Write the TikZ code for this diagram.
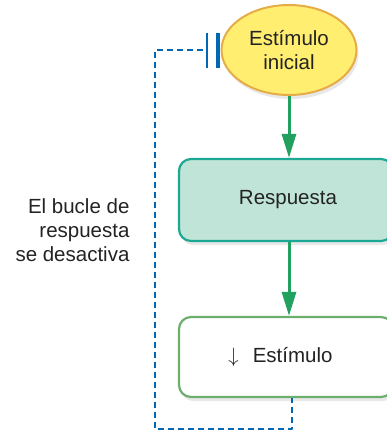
\documentclass[tikz,border=0pt]{standalone}
\usepackage{fontspec}
\setmainfont{Liberation Sans}
\usetikzlibrary{shapes.geometric,arrows.meta,shadows}
\definecolor{amarillo}{RGB}{255,238,112}
\definecolor{dorado}{RGB}{230,172,72}
\definecolor{menta}{RGB}{192,228,216}
\definecolor{turquesa}{RGB}{28,168,148}
\definecolor{verdecaja}{RGB}{108,174,108}
\definecolor{verdeflecha}{RGB}{34,160,96}
\definecolor{azul}{RGB}{0,104,178}
\definecolor{tinta}{RGB}{35,35,35}
\tikzset{
  sombra/.style={drop shadow={opacity=0.18,shadow xshift=2pt,shadow yshift=-4pt}},
  caja/.style={rectangle,rounded corners=12pt,line width=2.2pt,minimum width=214pt,inner sep=0pt,sombra},
  flecha/.style={-{Triangle[length=24pt,width=14pt]},line width=3pt,verdeflecha},
  bucle/.style={azul,line width=2.8pt,dash pattern=on 6pt off 4pt}
}
\begin{document}
\begin{tikzpicture}[x=1pt,y=-1pt,font=\fontsize{20.5}{24}\selectfont,text=tinta,line join=round]
	\useasboundingbox (0,0) rectangle (387,432);
	\clip (0,0) rectangle (387,432);
	% bucle de retroalimentacion (debajo de los nodos)
	\coordinate (corte) at (203,50);
	\coordinate (fin) at (292,429);
	\node[ellipse,draw=dorado,line width=2pt,fill=amarillo,minimum width=135pt,minimum height=90pt,inner sep=0pt,sombra,align=center] (estimulo) at (289,50) {Estímulo\\inicial};
	\node[caja,draw=turquesa,fill=menta,minimum height=82pt] (respuesta) at (286,200) {\hspace*{4pt}Respuesta};
	\node[caja,draw=verdecaja,fill=white,minimum height=80pt] (estimulob) at (286,357) {$\downarrow$\hspace{14pt}Estímulo\hspace*{11pt}};
	\draw[bucle] (corte) -- ++(-48,0) |- (fin) -- (estimulob.south -| fin);
	% marca de corte del bucle
	\draw[azul,line width=1.3pt] (207,33) -- (207,68);
	\draw[azul,line width=3.5pt] (218,33) -- (218,68);
	\draw[flecha] (estimulo.south) -- (estimulo.south |- respuesta.north);
	\draw[flecha] (respuesta.south -| estimulo) -- (estimulob.north -| estimulo);
	\node[anchor=east,align=right] (texto) at (133,230) {El bucle de\\respuesta\\se desactiva};
\end{tikzpicture}
\end{document}
